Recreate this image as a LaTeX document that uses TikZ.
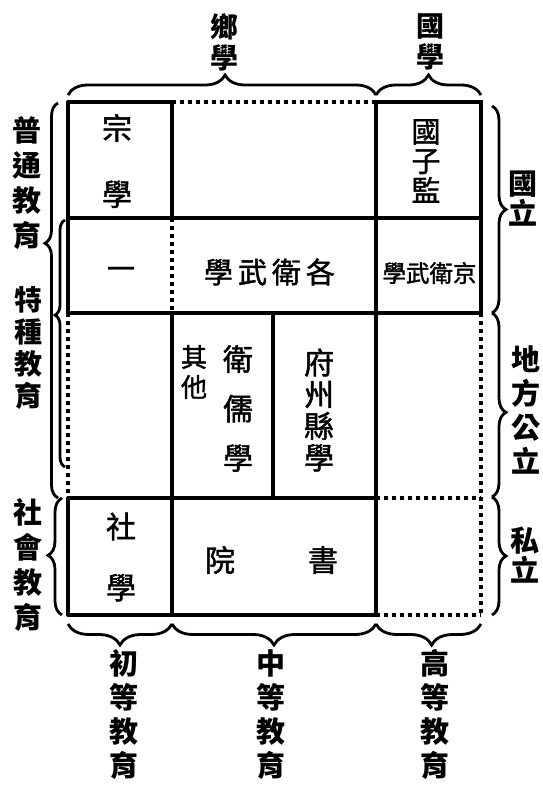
\documentclass[tikz,border=0pt]{standalone}
\usepackage{fontspec}
\newfontfamily\cjk{Noto Sans CJK TC}
\newfontfamily\cjkm[FakeBold=1.5]{Noto Sans CJK TC}
\usetikzlibrary{decorations.pathreplacing}
\begin{document}
\begin{tikzpicture}[x=1pt,y=1pt,
  gridline/.style={line width=3.4pt, line cap=round},
  dotline/.style={line width=3.4pt, dash pattern=on 3.5pt off 4.5pt},
  brc/.style n args={2}{decorate, decoration={brace, amplitude=#1, aspect=#2}, line width=2.8pt},
  lbl/.style n args={2}{inner sep=0pt, align=center, font=\cjk\bfseries\fontsize{#1}{#2}\selectfont},
  txt/.style n args={2}{inner sep=0pt, align=center, font=\cjkm\fontsize{#1}{#2}\selectfont}]
\fill[white] (0,0) rectangle (543,-785);
\useasboundingbox (0,0) rectangle (543,-785);
% grid
\draw[gridline] (68,-102) -- (172,-102);
\draw[dotline] (172,-102) -- (376,-102);
\draw[gridline] (376,-102) -- (481,-102) -- (481,-313);
\draw[gridline] (68,-218) -- (481,-218);
\draw[gridline] (68,-313) -- (481,-313);
\draw[gridline] (68,-498) -- (376,-498);
\draw[dotline] (376,-498) -- (481,-498);
\draw[gridline] (68,-615) -- (376,-615);
\draw[dotline] (376,-615) -- (481,-615);
\draw[gridline] (68,-102) -- (68,-313);
\draw[dotline] (68,-313) -- (68,-498);
\draw[gridline] (68,-498) -- (68,-615);
\draw[gridline] (172,-102) -- (172,-218);
\draw[dotline] (172,-218) -- (172,-313);
\draw[gridline] (172,-313) -- (172,-615);
\draw[gridline] (273,-313) -- (273,-498);
\draw[gridline] (376,-102) -- (376,-615);
\draw[dotline] (481,-313) -- (481,-615);
% braces
\draw[brc={20pt}{0.51}] (68,-95) -- (376,-95);
\draw[brc={20pt}{0.5}] (376,-95) -- (481,-95);
\draw[brc={14pt}{0.5}] (492,-106) -- (492,-313);
\draw[brc={14pt}{0.54}] (492,-313) -- (492,-497);
\draw[brc={14pt}{0.5}] (492,-497) -- (492,-615);
\draw[brc={13pt}{0.645}] (58,-498) -- (58,-103);
\draw[brc={10pt}{0.615}] (65,-467) -- (65,-220);
\draw[brc={14pt}{0.51}] (62,-615) -- (62,-498);
\draw[brc={21pt}{0.5}] (172,-624) -- (68,-624);
\draw[brc={21pt}{0.5}] (376,-624) -- (172,-624);
\draw[brc={21pt}{0.47}] (481,-624) -- (376,-624);
% outer labels
\node[lbl={28}{31}] (xiangxue) at (224,-42) {鄉\\學};
\node[lbl={28}{31}] (guoxue) at (430,-42) {國\\學};
\node[lbl={29}{35}] (putong) at (27,-183) {普\\通\\教\\育};
\node[lbl={28}{32}] (tezhong) at (28,-348) {特\\種\\教\\育};
\node[lbl={29}{35}] (shehui) at (28,-565) {社\\會\\教\\育};
\node[lbl={29}{30}] (guoli) at (523,-199) {國\\立};
\node[lbl={29}{34}] (difang) at (526,-410) {地\\方\\公\\立};
\node[lbl={29}{30}] (sili) at (525,-555) {私\\立};
\node[lbl={29}{34}] (chudeng) at (124,-715) {初\\等\\教\\育};
\node[lbl={29}{34}] (zhongdeng) at (271,-715) {中\\等\\教\\育};
\node[lbl={29}{34}] (gaodeng) at (435,-715) {高\\等\\教\\育};
% cell texts
\node[txt={30}{66}] (zongxue) at (117,-161) {宗\\學};
\node[txt={29}{29.5}] (guozijian) at (426,-161) {國\\子\\監};
\node[txt={28}{30}] (yi) at (121,-273) {一};
\node[txt={29}{30}] (gewei) at (269.5,-272) {學\hspace{5pt}武\hspace{5pt}衛\hspace{5pt}各};
\node[txt={23.5}{26}] (jingwei) at (429.5,-273) {學武衛京};
\node[txt={26}{30}] (qita) at (194,-372) {其\\他};
\node[txt={30}{49.5}] (weiru) at (238,-408.5) {衛\\儒\\學};
\node[txt={30}{31.7}] (fuzhou) at (319,-410) {府\\州\\縣\\學};
\node[txt={30}{61}] (shexue) at (121,-557) {社\\學};
\node[txt={30}{30}] (shuyuan) at (271.5,-560) {院\hspace{73pt}書};
\end{tikzpicture}
\end{document}
